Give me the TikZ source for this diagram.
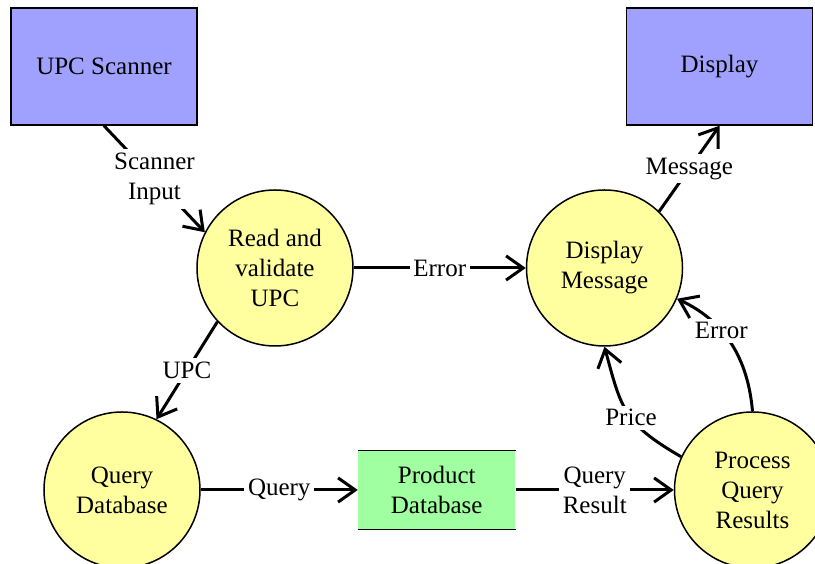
\documentclass[tikz,border=0pt]{standalone}
\usepackage{fontspec}
\setmainfont{Liberation Serif}
\usetikzlibrary{shapes.geometric, arrows, arrows.meta, positioning}
\definecolor{termblue}{RGB}{160,160,255}
\definecolor{procyellow}{RGB}{255,255,160}
\definecolor{storegreen}{RGB}{160,255,160}
\tikzstyle{terminator} = [rectangle, minimum width=74.4pt, minimum height=46.8pt, text centered, draw=black, semithick, fill=termblue]
\tikzstyle{process} = [circle, minimum size=62.4pt, inner sep=0pt, align=center, draw=black, semithick, fill=procyellow]
\tikzstyle{datastore} = [rectangle, minimum width=62.8pt, minimum height=31.2pt, align=center, fill=storegreen]
\tikzstyle{arrow} = [very thick,-{Straight Barb[length=2.4mm,width=3.4mm]}]
\tikzset{
    descr/.style={
        fill=white,
        inner sep=1.5pt,
        align=center
    },
    storeline/.style={
        semithick
    }
}

\begin{document}
\begin{tikzpicture}[x=0.4pt, y=-0.4pt, font=\rmfamily]
	\useasboundingbox (0,0) rectangle (815,564);
	\node (scanner) [terminator] at (104,66.5) {UPC Scanner};
	\node (display) [terminator] at (719.5,66.5) {Display};
	\node (readUpc) [process] at (275,268) {Read and\\validate\\UPC};
	\node (showMessage) [process, right = 68.8pt of readUpc] {Display\\Message};
	\node (queryDb) [process] at (122,490) {Query\\Database};
	\node (productDb) [datastore, right = 62.8pt of queryDb] {Product\\Database};
	\node (processResults) [process, right = 63.2pt of productDb] {Process\\Query\\Results};
	\draw [storeline] (productDb.north west) -- (productDb.north east);
	\draw [storeline] (productDb.south west) -- (productDb.south east);
	\draw [arrow] (scanner.south) -- node [descr] {Scanner\\Input} (readUpc.153);
	\draw [arrow] (readUpc) -- node [descr] {Error} (showMessage);
	\draw [arrow] (readUpc.223) -- node [descr] {UPC} (queryDb.64);
	\draw [arrow] (queryDb) -- node [descr] {Query} (productDb);
	\draw [arrow] (productDb) -- node [descr] {Query\\Result} (processResults);
	\draw [arrow] (processResults.155) to[out=150, in=-75, looseness=1.25] node [descr, pos=0.45] {Price} (showMessage.south);
	\draw [arrow] (processResults.north) to[out=95, in=-25] node [descr, pos=0.62] {Error} (showMessage.-23);
	\draw [arrow] (showMessage.46) -- node [descr] {Message} (display.south);
\end{tikzpicture}
\end{document}
